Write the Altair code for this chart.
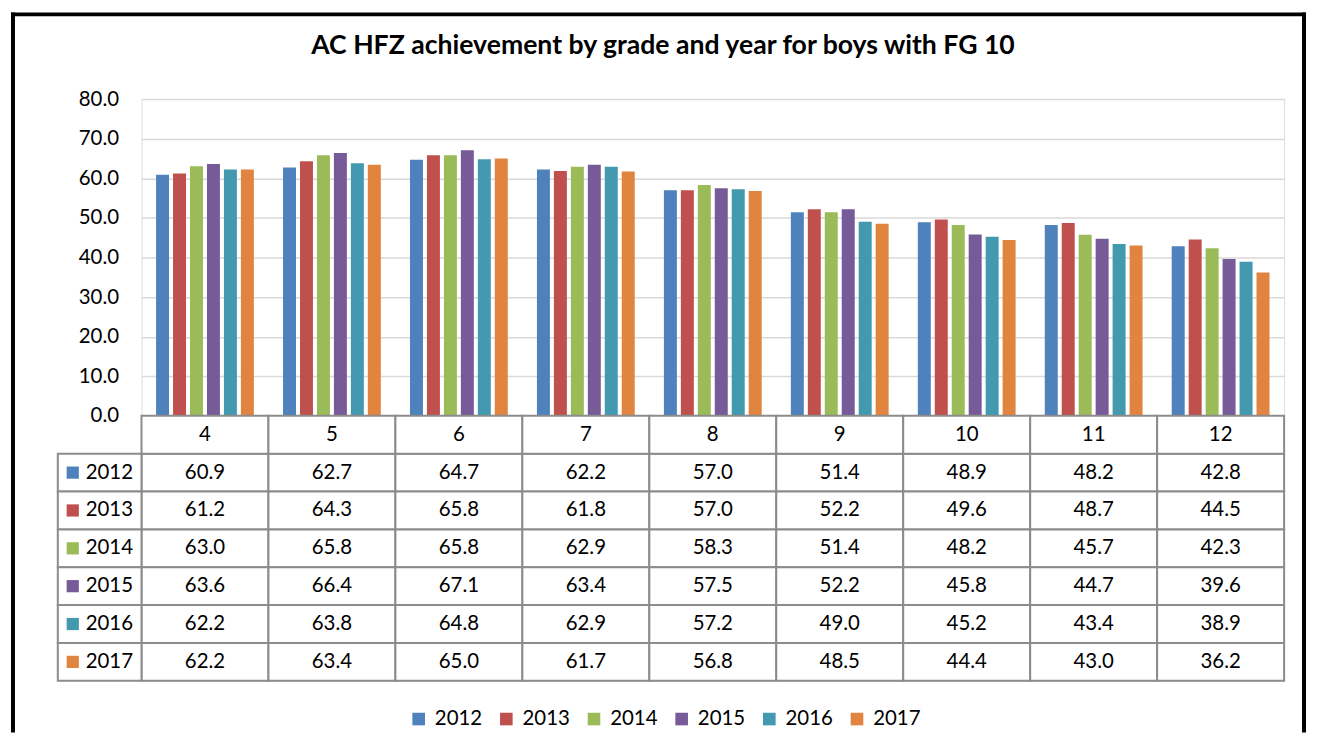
import altair as alt
import pandas as pd

grades = ["4", "5", "6", "7", "8", "9", "10", "11", "12"]
years = ["2012", "2013", "2014", "2015", "2016", "2017"]
v2012 = [60.9, 62.7, 64.7, 62.2, 57.0, 51.4, 48.9, 48.2, 42.8]
v2013 = [61.2, 64.3, 65.8, 61.8, 57.0, 52.2, 49.6, 48.7, 44.5]
v2014 = [63.0, 65.8, 65.8, 62.9, 58.3, 51.4, 48.2, 45.7, 42.3]
v2015 = [63.6, 66.4, 67.1, 63.4, 57.5, 52.2, 45.8, 44.7, 39.6]
v2016 = [62.2, 63.8, 64.8, 62.9, 57.2, 49.0, 45.2, 43.4, 38.9]
v2017 = [62.2, 63.4, 65.0, 61.7, 56.8, 48.5, 44.4, 43.0, 36.2]
y_ticks = [0, 10, 20, 30, 40, 50, 60, 70, 80]
colors = ["#4F81BD", "#C0504D", "#9BBB59", "#775A98", "#4299B0", "#E0843F"]
title_text = "AC HFZ achievement by grade and year for boys with FG 10"

series = [v2012, v2013, v2014, v2015, v2016, v2017]
rows = []
for yr, vals in zip(years, series):
    for g, v in zip(grades, vals):
        rows.append({"year": yr, "grade": g, "value": v, "row": yr, "label": f"{v:.1f}"})
df = pd.DataFrame(rows)
hdr = pd.DataFrame([{"grade": g, "row": "hdr", "label": g} for g in grades])
tbl = pd.concat([df[["grade", "row", "label"]], hdr], ignore_index=True)
yr_df = pd.DataFrame({"year": years, "row": years})

row_domain = ["hdr"] + years
FONT = "Lato"
FS = 20.5
GRID_GRAY = "#8C8C8C"

color_enc = alt.Color(
    "year:N", sort=years,
    scale=alt.Scale(domain=years, range=colors),
    legend=alt.Legend(
        title=None, orient="none", direction="horizontal",
        legendX=268, legendY=612,
        symbolType="square", symbolSize=160, symbolStrokeWidth=0,
        labelFont=FONT, labelFontSize=FS, labelColor="black",
        labelOffset=6, columnPadding=13,
    ),
)

x_grade = alt.X("grade:N", sort=grades, axis=None,
                scale=alt.Scale(domain=grades, paddingInner=0, paddingOuter=0))

bars = alt.Chart(df).mark_bar().encode(
    x=x_grade,
    xOffset=alt.XOffset("year:N", sort=years,
                        scale=alt.Scale(domain=years, paddingInner=0.235, paddingOuter=0.86)),
    y=alt.Y("value:Q", scale=alt.Scale(domain=[0, 80]),
            axis=alt.Axis(values=y_ticks, format=".1f", title=None, domain=False,
                          ticks=False, labelPadding=23, labelFont=FONT,
                          labelFontSize=FS, labelColor="black",
                          gridColor="#D9D9D9", gridWidth=1.5)),
    color=color_enc,
).properties(
    width=1147, height=318,
    title=alt.Title(title_text, font=FONT, fontSize=26.7, fontWeight="bold",
                    color="black", anchor="middle", dx=-50, offset=30),
)

y_row = alt.Y("row:N", axis=None,
              scale=alt.Scale(domain=row_domain, paddingInner=0, paddingOuter=0))

frame_src = alt.Data(values=[{}])
frame_left = alt.Chart(frame_src).mark_rule(color="black", strokeWidth=4).encode(
    x=alt.value(-129), y=alt.value(-405), y2=alt.value(318)
)
frame_right = alt.Chart(frame_src).mark_rule(color="black", strokeWidth=4).encode(
    x=alt.value(1167), y=alt.value(-405), y2=alt.value(318)
)
frame_top = alt.Chart(frame_src).mark_rule(color="black", strokeWidth=4).encode(
    x=alt.value(-131), x2=alt.value(1169), y=alt.value(-403)
)

cells = alt.Chart(tbl).mark_rect(fill="white", stroke=GRID_GRAY, strokeWidth=2).encode(
    x=x_grade, y=y_row
)
cell_text = alt.Chart(tbl).mark_text(font=FONT, fontSize=FS, color="black").encode(
    x=x_grade, y=y_row, text="label:N"
)
left_cells = alt.Chart(yr_df).mark_rect(fill="white", stroke=GRID_GRAY, strokeWidth=2).encode(
    x=alt.value(-84), x2=alt.value(0), y=y_row
)
left_sq = alt.Chart(yr_df).mark_square(size=150, opacity=1, strokeWidth=0).encode(
    x=alt.value(-69), y=y_row, color=color_enc
)
left_txt = alt.Chart(yr_df).mark_text(font=FONT, fontSize=FS, color="black", align="left").encode(
    x=alt.value(-56), y=y_row, text="row:N"
)

table = alt.layer(frame_left, frame_right, frame_top, cells, cell_text,
                  left_cells, left_sq, left_txt).properties(width=1147, height=266)

chart = alt.vconcat(bars, table, spacing=0, bounds="flush").properties(
    padding={"left": 0, "top": 0, "right": 0, "bottom": 0}
).configure_view(strokeWidth=0).configure(background="white")

chart.save("out.html", embed_options={"renderer": "svg", "actions": False})
